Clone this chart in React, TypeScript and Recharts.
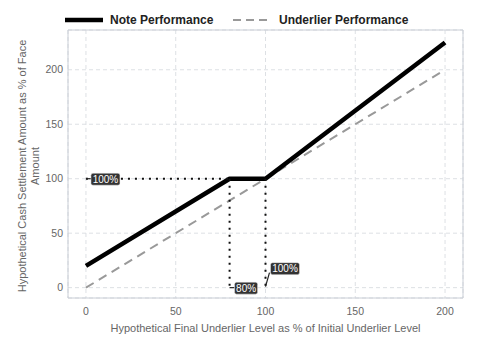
import React from "react";
import {
  ComposedChart,
  Line,
  XAxis,
  YAxis,
  CartesianGrid,
  ReferenceLine,
  ReferenceDot,
  ReferenceArea,
  Legend,
} from "recharts";

const noteX = [0, 80, 100, 200];
const noteY = [20, 100, 100, 225];
const underX = [0, 200];
const underY = [0, 200];
const xTicks = [0, 50, 100, 150, 200];
const yTicks = [0, 50, 100, 150, 200];
const xDomain = [-10, 210];
const yDomain = [-9.5, 236.5];
const seriesNames = ["Note Performance", "Underlier Performance"];
const xLabel = "Hypothetical Final Underlier Level as % of Initial Underlier Level";
const yLabelLines = ["Hypothetical Cash Settlement Amount as % of Face", "Amount"];
// annotation: point x, y, text
const annX = [0, 80, 100];
const annY = [100, 0, 0];
const annText = ["100%", "80%", "100%"];
const annStyle = ["right", "right", "upright"];

const noteData = noteX.map((x, i) => ({ x, y: noteY[i] }));
const underData = underX.map((x, i) => ({ x, y: underY[i] }));

const FONT = "'Liberation Sans', Arial, Helvetica, sans-serif";

const LegendContent = () => (
  <svg width={480} height={21} style={{ display: "block" }}>
    <line x1={65} y1={11} x2={103} y2={11} stroke="#000" strokeWidth={4.5} />
    <text x={110} y={15} fontFamily={FONT} fontWeight="bold" fontSize={12} fill="#222">
      {seriesNames[0]}
    </text>
    <line x1={233} y1={11} x2={268} y2={11} stroke="#999" strokeWidth={2} strokeDasharray="8 5" />
    <text x={279} y={15} fontFamily={FONT} fontWeight="bold" fontSize={12} fill="#222">
      {seriesNames[1]}
    </text>
  </svg>
);

const makeAnn = (text: string, style: string) => (props: any) => {
  const { cx, cy } = props;
  const w = text.length >= 4 ? 29 : 23;
  const h = 12;
  let bx: number, by: number, lx2: number, ly2: number;
  if (style === "upright") {
    bx = cx + 5;
    by = cy - 25;
    lx2 = cx + 4;
    ly2 = cy - 15;
  } else {
    bx = cx + 5;
    by = cy - 5.5;
    lx2 = cx + 5;
    ly2 = cy;
  }
  return (
    <g>
      <line x1={cx} y1={cy - (style === "upright" ? 1 : 0)} x2={lx2} y2={ly2} stroke="#222" strokeWidth={1.2} />
      <rect x={bx} y={by} width={w} height={h} rx={2} ry={2} fill="#333" stroke="#eee" strokeWidth={0.5} />
      <text
        x={bx + w / 2}
        y={by + h / 2 + 3.5}
        textAnchor="middle"
        fontFamily={FONT}
        fontSize={10}
        fill="#fff"
      >
        {text}
      </text>
    </g>
  );
};

const YLabel = (props: any) => {
  const vb = props.viewBox || { x: 0, y: 30, width: 68, height: 268 };
  const cy = vb.y + vb.height / 2 + 2;
  return (
    <g fontFamily={FONT} fontSize={11} fill="#666">
      <text x={26} y={cy} textAnchor="middle" transform={`rotate(-90, 26, ${cy})`} fill="#666">
        {yLabelLines[0]}
      </text>
      <text x={39} y={cy} textAnchor="middle" transform={`rotate(-90, 39, ${cy})`} fill="#666">
        {yLabelLines[1]}
      </text>
    </g>
  );
};

const XLabel = (props: any) => {
  const vb = props.viewBox || { x: 68, y: 298, width: 395, height: 30 };
  const cx = vb.x + vb.width / 2;
  return (
    <text x={cx} y={332} textAnchor="middle" fontFamily={FONT} fontSize={11} fill="#666">
      {xLabel}
    </text>
  );
};

export default function App() {
  return (
    <div style={{ position: "absolute", left: 0, top: 0 }}>
      <ComposedChart
        width={480}
        height={360}
        margin={{ top: 9, right: 17, bottom: 32, left: 0 }}
      >
        <Legend
          verticalAlign="top"
          align="left"
          height={21}
          wrapperStyle={{ left: 0, width: 480 }}
          content={() => <LegendContent />}
        />
        <CartesianGrid stroke="#dde0e4" strokeDasharray="4 3" />
        <XAxis
          type="number"
          dataKey="x"
          domain={xDomain}
          ticks={xTicks}
          allowDataOverflow
          axisLine={false}
          tickLine={false}
          tickSize={6}
          tickMargin={4}
          height={30}
          tick={{ fill: "#666", fontSize: 10.5, fontFamily: FONT }}
          label={<XLabel />}
        />
        <YAxis
          type="number"
          dataKey="y"
          domain={yDomain}
          ticks={yTicks}
          allowDataOverflow
          axisLine={false}
          tickLine={false}
          tickSize={3}
          tickMargin={2}
          width={68}
          tick={{ fill: "#666", fontSize: 10.5, fontFamily: FONT }}
          label={<YLabel />}
        />
        <ReferenceArea
          x1={xDomain[0]}
          x2={xDomain[1]}
          y1={yDomain[0]}
          y2={yDomain[1]}
          fill="none"
          stroke="#c9ced6"
          strokeWidth={1}
          ifOverflow="visible"
        />
        <Line
          data={underData}
          dataKey="y"
          name={seriesNames[1]}
          stroke="#999"
          strokeWidth={2}
          strokeDasharray="9 6"
          dot={false}
          activeDot={false}
          isAnimationActive={false}
        />
        <Line
          data={noteData}
          dataKey="y"
          name={seriesNames[0]}
          stroke="#000"
          strokeWidth={4.5}
          strokeLinejoin="round"
          dot={false}
          activeDot={false}
          isAnimationActive={false}
        />
        <ReferenceLine
          segment={[
            { x: noteX[0], y: noteY[1] },
            { x: noteX[1], y: noteY[1] },
          ]}
          stroke="#111"
          strokeWidth={2}
          strokeDasharray="2 5"
        />
        <ReferenceLine
          segment={[
            { x: noteX[1], y: noteY[1] },
            { x: noteX[1], y: 1 },
          ]}
          stroke="#111"
          strokeWidth={2}
          strokeDasharray="2 5"
        />
        <ReferenceLine
          segment={[
            { x: noteX[2], y: noteY[2] },
            { x: noteX[2], y: 1 },
          ]}
          stroke="#111"
          strokeWidth={2}
          strokeDasharray="2 5"
        />
        {annX.map((x, i) => (
          <ReferenceDot
            key={i}
            x={x}
            y={annY[i]}
            r={0}
            ifOverflow="visible"
            shape={makeAnn(annText[i], annStyle[i])}
          />
        ))}
      </ComposedChart>
    </div>
  );
}
